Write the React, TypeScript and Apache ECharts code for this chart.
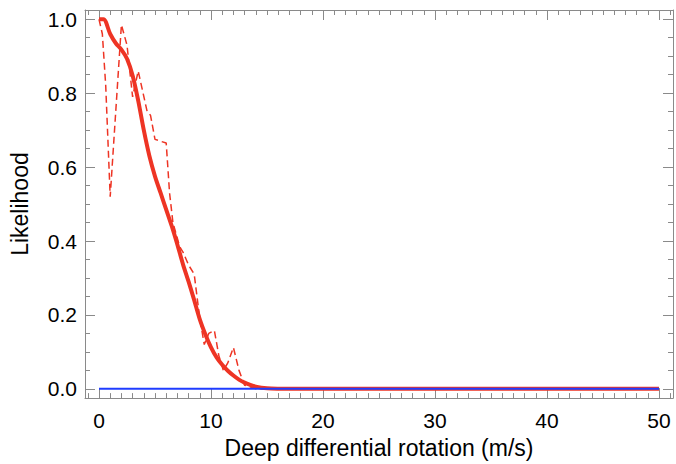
import React, { useEffect, useRef } from "react";
import * as echarts from "echarts";

// Smooth (thick) likelihood curve
const solidX = [0, 0.4, 1.0, 1.5, 2.0, 2.5, 3.0, 3.5, 4.0, 4.5, 5.0, 5.5, 6.0, 6.5, 7.0, 7.5, 8.0, 8.5, 9.0, 9.5, 10.0, 10.5, 11.0, 11.5, 12.0, 12.5, 13.0, 13.5, 14.0, 14.5, 15.0, 16.0, 17.0, 20, 30, 40, 50];
const solidY = [1.0, 1.0, 0.96, 0.935, 0.918, 0.893, 0.848, 0.78, 0.70, 0.63, 0.575, 0.53, 0.485, 0.44, 0.39, 0.337, 0.29, 0.24, 0.188, 0.147, 0.112, 0.085, 0.065, 0.049, 0.036, 0.025, 0.017, 0.011, 0.006, 0.003, 0.0015, 0.0005, 0, 0, 0, 0, 0];

// Noisy (dashed) likelihood curve
const dashX = [0, 0.3, 0.6, 1.0, 2.0, 2.5, 3.0, 3.5, 4.3, 4.6, 5.0, 6.0, 6.3, 6.6, 7.2, 7.5, 8.0, 8.5, 9.0, 9.4, 9.8, 10.3, 10.7, 11.1, 11.5, 12.0, 12.5, 13.0, 14.0, 50];
const dashY = [1.0, 0.96, 0.82, 0.52, 0.985, 0.93, 0.79, 0.86, 0.75, 0.74, 0.675, 0.665, 0.53, 0.45, 0.385, 0.37, 0.335, 0.31, 0.19, 0.12, 0.15, 0.158, 0.09, 0.05, 0.07, 0.112, 0.05, 0.01, 0, 0];

// Zero (blue) reference line
const zeroX = [0, 50];
const zeroY = [0, 0];

const xTickLabels = [0, 10, 20, 30, 40, 50];
const yTickLabels = [0, 0.2, 0.4, 0.6, 0.8, 1.0];

const xMinor: number[] = [];
for (let i = -1; i <= 51; i++) xMinor.push(i);
const yMinor: number[] = [];
for (let i = 0; i <= 20; i++) yMinor.push(Math.round(i * 5) / 100);

const zip = (a: number[], b: number[]) => a.map((v, i) => [v, b[i]]);

const FONT = "'Liberation Sans', Arial, Helvetica, sans-serif";
const FRAME = "#8a8a8a";

export default function App() {
  const ref = useRef<HTMLDivElement>(null);
  useEffect(() => {
    if (!ref.current) return;
    const chart = echarts.init(ref.current, undefined, { renderer: "svg" });
    const xBase = { type: "value", min: -1.25, max: 51.25, splitLine: { show: false } };
    const yBase = { type: "value", min: -0.025, max: 1.025, splitLine: { show: false } };
    const line = (show: boolean) => ({ show, onZero: false, lineStyle: { color: FRAME, width: 1 } });
    chart.setOption({
      animation: false,
      backgroundColor: "#ffffff",
      grid: { left: 85, right: 3, top: 10, bottom: 65, containLabel: false },
      xAxis: [
        {
          ...xBase,
          position: "bottom",
          axisLine: line(true),
          axisTick: { show: true, inside: true, length: 5, customValues: xMinor, lineStyle: { color: FRAME } },
          axisLabel: { show: true, customValues: xTickLabels, fontSize: 21, color: "#000", fontFamily: FONT, margin: 12 },
          name: "Deep differential rotation (m/s)",
          nameLocation: "middle",
          nameGap: 35,
          nameTextStyle: { fontSize: 23, color: "#000", fontFamily: FONT },
        },
        {
          ...xBase,
          position: "bottom",
          axisLine: line(false),
          axisTick: { show: true, inside: true, length: 10, customValues: xTickLabels, lineStyle: { color: FRAME } },
          axisLabel: { show: false },
        },
        {
          ...xBase,
          position: "top",
          axisLine: line(true),
          axisTick: { show: true, inside: true, length: 5, customValues: xMinor, lineStyle: { color: FRAME } },
          axisLabel: { show: false },
        },
        {
          ...xBase,
          position: "top",
          axisLine: line(false),
          axisTick: { show: true, inside: true, length: 10, customValues: xTickLabels, lineStyle: { color: FRAME } },
          axisLabel: { show: false },
        },
      ],
      yAxis: [
        {
          ...yBase,
          position: "left",
          axisLine: line(true),
          axisTick: { show: true, inside: true, length: 5, customValues: yMinor, lineStyle: { color: FRAME } },
          axisLabel: {
            show: true,
            customValues: yTickLabels,
            fontSize: 21,
            color: "#000",
            fontFamily: FONT,
            margin: 8,
            formatter: (v: number) => v.toFixed(1),
          },
          name: "Likelihood",
          nameLocation: "middle",
          nameGap: 54,
          nameTextStyle: { fontSize: 23, color: "#000", fontFamily: FONT },
        },
        {
          ...yBase,
          position: "left",
          axisLine: line(false),
          axisTick: { show: true, inside: true, length: 10, customValues: yTickLabels, lineStyle: { color: FRAME } },
          axisLabel: { show: false },
        },
        {
          ...yBase,
          position: "right",
          axisLine: line(true),
          axisTick: { show: true, inside: true, length: 5, customValues: yMinor, lineStyle: { color: FRAME } },
          axisLabel: { show: false },
        },
        {
          ...yBase,
          position: "right",
          axisLine: line(false),
          axisTick: { show: true, inside: true, length: 10, customValues: yTickLabels, lineStyle: { color: FRAME } },
          axisLabel: { show: false },
        },
      ],
      series: [
        {
          type: "line",
          data: zip(solidX, solidY),
          showSymbol: false,
          smooth: 0.3,
          lineStyle: { color: "#ee3424", width: 4 },
          itemStyle: { color: "#ee3424" },
          z: 2,
        },
        {
          type: "line",
          data: zip(dashX, dashY),
          showSymbol: false,
          lineStyle: { color: "#ee3424", width: 1.5, type: [7, 4] },
          itemStyle: { color: "#ee3424" },
          z: 3,
        },
        {
          type: "line",
          data: zip(zeroX, zeroY),
          showSymbol: false,
          lineStyle: { color: "#1f3cff", width: 2 },
          itemStyle: { color: "#1f3cff" },
          z: 4,
        },
      ],
    });
    return () => chart.dispose();
  }, []);
  return (
    <div
      ref={ref}
      style={{ position: "fixed", left: 0, top: 0, width: 676, height: 464 }}
    />
  );
}
